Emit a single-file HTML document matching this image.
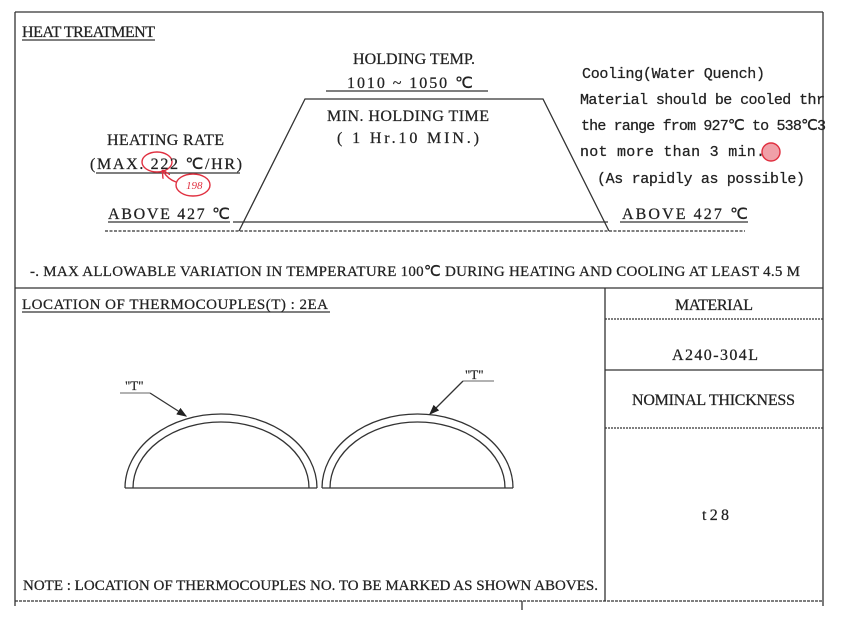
<!DOCTYPE html>
<html><head><meta charset="utf-8"><style>
html,body{margin:0;padding:0;background:#fff;}
svg{display:block;}
text{font-family:"Liberation Serif",serif;fill:#222;stroke:#222;stroke-width:0.25;}
.m{font-family:"Liberation Mono",monospace;}
</style></head><body>
<svg width="847" height="622" viewBox="0 0 847 622" xmlns="http://www.w3.org/2000/svg">
<defs><marker id="ah" markerWidth="8" markerHeight="8" refX="7" refY="4" orient="auto"><path d="M0,1 L8,4 L0,7 z" fill="#222"/></marker>
<marker id="ahr" markerWidth="6" markerHeight="6" refX="5" refY="3" orient="auto"><path d="M0,0 L6,3 L0,6" fill="none" stroke="#e03040"/></marker></defs>
<g stroke="#333" fill="none" stroke-width="1.3">
<line x1="15" y1="12" x2="823" y2="12"/>
<line x1="15" y1="12" x2="15" y2="606"/>
<line x1="823" y1="12" x2="823" y2="606"/>
<line x1="15" y1="288" x2="823" y2="288"/>
<line x1="605" y1="288" x2="605" y2="601"/>
<line x1="15" y1="601" x2="823" y2="601" stroke-dasharray="3,1"/>
<line x1="522" y1="601" x2="522" y2="610"/>
<line x1="605" y1="319" x2="823" y2="319" stroke-dasharray="2,1"/>
<line x1="605" y1="370" x2="823" y2="370"/>
<line x1="605" y1="428" x2="823" y2="428" stroke-dasharray="2,1"/>
<polyline points="239,231 305,99 543,99 609,231"/>
<line x1="105" y1="231" x2="745" y2="231" stroke-dasharray="3,1.5"/>
<line x1="233" y1="222" x2="608" y2="222"/>
<line x1="108" y1="222" x2="230" y2="222"/>
<line x1="620" y1="222" x2="748" y2="222"/>
<line x1="326" y1="91" x2="488" y2="91"/>
<line x1="96" y1="173" x2="240" y2="173"/>
<line x1="22" y1="40" x2="155" y2="40"/>
<line x1="22" y1="312" x2="330" y2="312"/>
<path d="M125,488 A96,74 0 0 1 317,488"/>
<path d="M133,488 A88,66 0 0 1 309,488"/>
<line x1="125" y1="488" x2="317" y2="488"/>
<path d="M322,488 A95.5,74 0 0 1 513,488"/>
<path d="M330,488 A87.5,66 0 0 1 505,488"/>
<line x1="322" y1="488" x2="513" y2="488"/>
<line x1="120" y1="393" x2="150" y2="393" stroke-width="0.8"/>
<line x1="150" y1="393" x2="186" y2="416" marker-end="url(#ah)"/>
<line x1="463" y1="381" x2="494" y2="381" stroke-width="0.8"/>
<line x1="463" y1="381" x2="430" y2="414" marker-end="url(#ah)"/>
</g>
<g stroke="#e03040" fill="none" stroke-width="1.4">
<ellipse cx="157" cy="162" rx="15" ry="10"/>
<ellipse cx="193" cy="185" rx="17" ry="11"/>
<path d="M176,182 C170,180 166,176 163,171" marker-end="url(#ahr)"/>
<circle cx="771" cy="152" r="9" fill="#f0a0a8"/>
</g>
<text x="186" y="189" font-size="11" style="fill:#e03040;stroke:none" font-style="italic">198</text>
<text x="22" y="37" font-size="16" textLength="133">HEAT TREATMENT</text>
<text x="353" y="64" font-size="16" textLength="122">HOLDING TEMP.</text>
<text x="347" y="88" font-size="16" textLength="126">1010 ~ 1050 ℃</text>
<text x="327" y="121" font-size="16" textLength="162">MIN. HOLDING TIME</text>
<text x="337" y="143" font-size="16" textLength="142">( 1 Hr.10 MIN.)</text>
<text x="107" y="145" font-size="16" textLength="117">HEATING RATE</text>
<text x="90" y="169" font-size="16" textLength="152">(MAX. 222 ℃/HR)</text>
<text x="108" y="219" font-size="16" textLength="122">ABOVE  427 ℃</text>
<text x="622" y="219" font-size="16" textLength="126">ABOVE  427 ℃</text>
<text class="m" x="582" y="78" font-size="15" textLength="183">Cooling(Water Quench)</text>
<text class="m" x="580" y="104" font-size="15" textLength="245">Material should be cooled thr</text>
<text class="m" x="581" y="130" font-size="15" textLength="245">the range from 927℃ to 538℃3</text>
<text class="m" x="580" y="156" font-size="15" textLength="185">not more than 3 min.</text>
<text class="m" x="597" y="183" font-size="15" textLength="208">(As rapidly as possible)</text>
<text x="30" y="276" font-size="15" textLength="770">-. MAX ALLOWABLE VARIATION IN TEMPERATURE 100℃ DURING HEATING AND COOLING AT LEAST 4.5 M</text>
<text x="22" y="309" font-size="15" textLength="306">LOCATION OF THERMOCOUPLES(T) : 2EA</text>
<text x="675" y="310" font-size="16" textLength="78">MATERIAL</text>
<text x="672" y="360" font-size="16" textLength="86">A240-304L</text>
<text x="632" y="405" font-size="16" textLength="163">NOMINAL THICKNESS</text>
<text x="702" y="520" font-size="16" textLength="27">t28</text>
<text x="125" y="390" font-size="13">"T"</text>
<text x="465" y="379" font-size="13">"T"</text>
<text x="23" y="590" font-size="15" textLength="575">NOTE : LOCATION OF THERMOCOUPLES NO. TO BE MARKED AS SHOWN ABOVES.</text>
</svg>
</body></html>
